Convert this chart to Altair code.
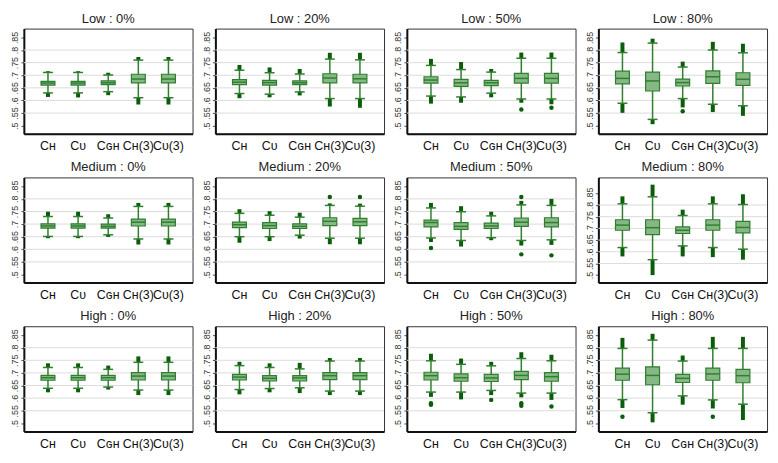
import altair as alt
import pandas as pd

# ---------------- data ----------------
levels = ["Low", "Medium", "High"]
pcts = ["0%", "20%", "50%", "80%"]
cats = ["Cʜ", "Cᴜ", "Cɢʜ", "Cʜ(3)", "Cᴜ(3)"]
panels = [(lv, pc) for lv in levels for pc in pcts]

# one row per panel (Low 0%, Low 20%, ..., High 80%), one value per category
whisk_lo = [
    [0.630, 0.630, 0.635, 0.611, 0.611],
    [0.6275, 0.625, 0.634, 0.6075, 0.6075],
    [0.6175, 0.614, 0.629, 0.606, 0.606],
    [0.589, 0.525, 0.6075, 0.585, 0.579],
    [0.651, 0.651, 0.6575, 0.641, 0.641],
    [0.650, 0.650, 0.656, 0.644, 0.644],
    [0.645, 0.635, 0.646, 0.635, 0.6375],
    [0.618, 0.566, 0.625, 0.618, 0.611],
    [0.639, 0.639, 0.644, 0.632, 0.632],
    [0.634, 0.638, 0.641, 0.628, 0.628],
    [0.624, 0.624, 0.6305, 0.620, 0.620],
    [0.594, 0.542, 0.609, 0.593, 0.576],
]
q1 = [
    [0.661, 0.661, 0.6625, 0.670, 0.670],
    [0.6625, 0.661, 0.6625, 0.670, 0.670],
    [0.669, 0.656, 0.659, 0.669, 0.669],
    [0.666, 0.6375, 0.6575, 0.6675, 0.660],
    [0.684, 0.684, 0.684, 0.6925, 0.6925],
    [0.686, 0.6825, 0.6825, 0.694, 0.694],
    [0.689, 0.679, 0.6825, 0.691, 0.689],
    [0.692, 0.673, 0.678, 0.692, 0.681],
    [0.671, 0.671, 0.671, 0.672, 0.672],
    [0.672, 0.668, 0.668, 0.673, 0.673],
    [0.672, 0.667, 0.666, 0.673, 0.667],
    [0.671, 0.653, 0.662, 0.671, 0.661],
]
median = [
    [0.669, 0.669, 0.670, 0.685, 0.685],
    [0.6725, 0.671, 0.670, 0.689, 0.686],
    [0.681, 0.670, 0.670, 0.6875, 0.6875],
    [0.6875, 0.6775, 0.671, 0.694, 0.684],
    [0.6925, 0.6925, 0.691, 0.7075, 0.7075],
    [0.6975, 0.694, 0.691, 0.711, 0.709],
    [0.706, 0.691, 0.6925, 0.7075, 0.706],
    [0.714, 0.703, 0.692, 0.714, 0.704],
    [0.681, 0.681, 0.681, 0.6875, 0.6875],
    [0.6835, 0.6785, 0.680, 0.689, 0.689],
    [0.689, 0.681, 0.680, 0.690, 0.685],
    [0.695, 0.690, 0.6785, 0.696, 0.689],
]
q3 = [
    [0.676, 0.676, 0.6775, 0.704, 0.704],
    [0.6825, 0.680, 0.6775, 0.706, 0.704],
    [0.694, 0.684, 0.680, 0.7075, 0.7075],
    [0.716, 0.7125, 0.685, 0.7175, 0.710],
    [0.701, 0.701, 0.700, 0.720, 0.720],
    [0.7075, 0.706, 0.701, 0.725, 0.7225],
    [0.716, 0.706, 0.704, 0.724, 0.725],
    [0.737, 0.737, 0.706, 0.737, 0.730],
    [0.690, 0.690, 0.690, 0.701, 0.701],
    [0.694, 0.689, 0.689, 0.701, 0.701],
    [0.7025, 0.696, 0.694, 0.706, 0.701],
    [0.719, 0.724, 0.694, 0.719, 0.714],
]
whisk_hi = [
    [0.711, 0.711, 0.701, 0.760, 0.760],
    [0.720, 0.710, 0.705, 0.764, 0.761],
    [0.739, 0.7225, 0.7125, 0.7675, 0.7675],
    [0.790, 0.8275, 0.7325, 0.800, 0.789],
    [0.730, 0.730, 0.724, 0.770, 0.770],
    [0.7425, 0.735, 0.7275, 0.774, 0.771],
    [0.764, 0.749, 0.7325, 0.776, 0.774],
    [0.805, 0.835, 0.755, 0.805, 0.802],
    [0.7215, 0.7215, 0.714, 0.742, 0.742],
    [0.729, 0.7215, 0.716, 0.747, 0.747],
    [0.748, 0.734, 0.728, 0.757, 0.748],
    [0.797, 0.830, 0.747, 0.797, 0.797],
]
# extent of the dense clusters of outside values
out_min = [
    [0.614, 0.612, 0.621, 0.584, 0.584],
    [0.609, 0.6125, 0.620, 0.576, 0.571],
    [0.5875, 0.591, 0.6125, 0.591, 0.585],
    [0.551, 0.506, 0.5725, 0.554, 0.539],
    [0.644, 0.644, 0.649, 0.619, 0.619],
    [0.626, 0.6325, 0.6425, 0.620, 0.620],
    [0.629, 0.611, 0.636, 0.615, 0.6175],
    [0.580, 0.500, 0.580, 0.577, 0.566],
    [0.623, 0.623, 0.634, 0.612, 0.612],
    [0.615, 0.623, 0.620, 0.612, 0.612],
    [0.605, 0.595, 0.612, 0.603, 0.593],
    [0.561, 0.504, 0.574, 0.559, 0.513],
]
out_max = [
    [0.716, 0.716, 0.710, 0.7725, 0.7725],
    [0.741, 0.731, 0.725, 0.789, 0.789],
    [0.765, 0.7525, 0.725, 0.790, 0.790],
    [0.830, 0.845, 0.754, 0.8325, 0.825],
    [0.749, 0.749, 0.739, 0.784, 0.784],
    [0.759, 0.751, 0.745, 0.782, 0.781],
    [0.784, 0.771, 0.749, 0.792, 0.800],
    [0.837, 0.887, 0.780, 0.837, 0.846],
    [0.738, 0.738, 0.729, 0.7655, 0.7655],
    [0.744, 0.738, 0.740, 0.759, 0.759],
    [0.776, 0.757, 0.744, 0.782, 0.772],
    [0.839, 0.855, 0.769, 0.843, 0.843],
]
# isolated outside values: (panel index, category index, value)
extra_panel = [2, 2, 3, 5, 5, 6, 6, 6, 6, 10, 10, 10, 10, 10, 10, 11, 11]
extra_cat = [3, 4, 2, 3, 4, 0, 3, 3, 4, 0, 0, 2, 3, 3, 4, 0, 3]
extra_val = [0.564, 0.571, 0.5575, 0.8075, 0.8075, 0.605, 0.8075, 0.580, 0.576,
             0.580, 0.574, 0.593, 0.580, 0.570, 0.567, 0.526, 0.526]

# y-axis extent of each panel
y_min = [0.468] * 12
y_max = [0.885, 0.885, 0.885, 0.885, 0.885, 0.885, 0.885, 0.918, 0.885, 0.885, 0.885, 0.885]
tick_vals = [0.5, 0.55, 0.6, 0.65, 0.7, 0.75, 0.8, 0.85]
grid_vals = [0.55, 0.6, 0.65, 0.7, 0.75, 0.8]

# ---------------- tables ----------------
rows = []
for i, (lv, pc) in enumerate(panels):
    for j, c in enumerate(cats):
        rows.append(dict(panel=i, cat=c, lo=whisk_lo[i][j], q1=q1[i][j], med=median[i][j],
                         q3=q3[i][j], hi=whisk_hi[i][j], omin=out_min[i][j], omax=out_max[i][j]))
df = pd.DataFrame(rows)
ex = pd.DataFrame(dict(panel=extra_panel, cat=[cats[k] for k in extra_cat], v=extra_val))
grid_df = pd.DataFrame(dict(v=grid_vals))

FILL = "#86b886"
LINE = "#2f7f2f"
DOT = "#0b5c0b"
W, H = 170, 106


def panel(i):
    lv, pc = panels[i]
    d = df[df.panel == i]
    e = ex[ex.panel == i]
    ysc = alt.Scale(domain=[y_min[i], y_max[i]], nice=False, zero=False)
    yax = alt.Axis(values=tick_vals, labelExpr="substring(toString(datum.value), 1)",
                   labelAngle=270, labelAlign="center", labelBaseline="bottom",
                   labelFontSize=9, labelColor="#333", labelPadding=1,
                   tickSize=3, tickColor="#555", grid=False, title=None,
                   domainColor="#111", domainWidth=2)
    xsc = alt.Scale(domain=cats, padding=0.6)
    xax = alt.Axis(labelAngle=0, labelFontSize=12.5, labelColor="#111", labelPadding=6,
                   ticks=False, domainColor="#111", domainWidth=2, title=None,
                   labelFont="Liberation Sans", labelOverlap=False)

    def X():
        return alt.X("cat:N", type="ordinal", sort=cats, scale=xsc, axis=xax, title=None)

    def Y(field):
        return alt.Y(field, type="quantitative", scale=ysc, axis=yax, title=None)

    base = alt.Chart(d)
    grid = alt.Chart(grid_df).mark_rule(color="#dcdcdc", strokeWidth=1).encode(y=Y("v"))
    whisk = base.mark_rule(color=LINE, strokeWidth=1.5).encode(x=X(), y=Y("lo"), y2="hi")
    clus_hi = base.mark_rule(color=DOT, strokeWidth=4).encode(x=X(), y=Y("hi"), y2="omax")
    clus_lo = base.mark_rule(color=DOT, strokeWidth=4).encode(x=X(), y=Y("omin"), y2="lo")
    cap_lo = base.mark_tick(color=LINE, size=10, thickness=1.5, opacity=1).encode(x=X(), y=Y("lo"))
    cap_hi = base.mark_tick(color=LINE, size=10, thickness=1.5, opacity=1).encode(x=X(), y=Y("hi"))
    box = base.mark_bar(size=14, fill=FILL, stroke=LINE, strokeWidth=1.2, opacity=1).encode(
        x=X(), y=Y("q1"), y2="q3")
    med = base.mark_tick(color=LINE, size=14, thickness=1.5, opacity=1).encode(x=X(), y=Y("med"))
    layers = [grid, whisk, clus_hi, clus_lo, cap_lo, cap_hi, box, med]
    if len(e):
        pts = alt.Chart(e).mark_circle(color=DOT, size=20, opacity=1).encode(x=X(), y=Y("v"))
        layers.append(pts)
    return alt.layer(*layers).properties(
        width=W, height=H,
        title=alt.TitleParams(f"{lv} : {pc}", fontSize=13, fontWeight="normal",
                              font="Liberation Sans", color="#222", offset=3))


rows_charts = []
for r in range(3):
    rows_charts.append(alt.hconcat(*[panel(r * 4 + c) for c in range(4)], spacing=8))

chart = alt.vconcat(*rows_charts, spacing=8).properties(
    padding=2, background="white"
).configure_view(stroke="#333", strokeWidth=1).configure_axis(
    labelFont="Liberation Sans"
).configure_title(anchor="middle")

chart.save("out.html", embed_options={"renderer": "svg", "actions": False})
